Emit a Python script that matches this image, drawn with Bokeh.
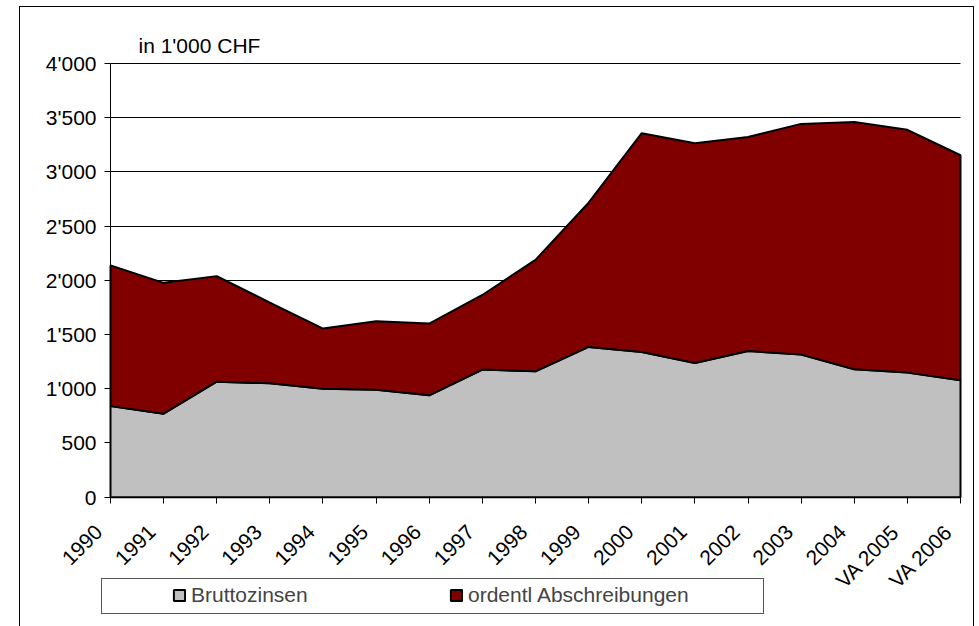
from bokeh.plotting import figure
from bokeh.models import Range1d, FixedTicker, Legend, LegendItem, LinearAxis, Grid, Label
from bokeh.embed import file_html
from bokeh.resources import INLINE
import math

years = ["1990", "1991", "1992", "1993", "1994", "1995", "1996", "1997", "1998",
         "1999", "2000", "2001", "2002", "2003", "2004", "VA 2005", "VA 2006"]
bruttozinsen = [840, 770, 1065, 1050, 1000, 992, 940, 1177, 1161,
                1386, 1340, 1238, 1349, 1315, 1180, 1149, 1078]
abschreibungen = [1298, 1207, 974, 745, 555, 631, 661, 688, 1028,
                  1330, 2017, 2027, 1974, 2128, 2281, 2239, 2076]
y_ticks = [0, 500, 1000, 1500, 2000, 2500, 3000, 3500, 4000]

FONT = "Liberation Sans"
n = len(years)
xs = list(range(n))
total = [b + a for b, a in zip(bruttozinsen, abschreibungen)]

# The frame covers the whole chart box; the axes are fixed at 0 so that the
# plot area sits inside it and the legend below the category axis fits in it.
X_START, X_END = -1.6941, 16.2447
Y_START, Y_END = -1192.5, 4516.5
TICK_LEN = 55.3          # 6 px in data units
LABEL_SHIFT = 0.226      # category labels sit slightly left of their ticks

p = figure(frame_width=953, frame_height=619, min_border=0,
           x_range=Range1d(X_START, X_END), y_range=Range1d(Y_START, Y_END),
           x_axis_location=None, title=None,
           output_backend="svg", toolbar_location=None, tools="")
p.margin = (6, 0, 0, 19)
g = "linear-gradient(#555555,#555555)"
p.styles = {
    "border-left": "1px solid black", "border-top": "1px solid black",
    "border-right": "1px solid black",
    "background-color": "white",
    "background-image": ", ".join([g] * 4),
    "background-size": "663px 1px, 663px 1px, 1px 36px, 1px 36px",
    "background-position": "81px 571px, 81px 606px, 81px 571px, 743px 571px",
    "background-repeat": "no-repeat",
}
p.outline_line_color = None
p.background_fill_alpha = 0
p.border_fill_alpha = 0
p.xgrid.visible = False

gx = xs + [n - 1, 0]
gy = bruttozinsen + [0, 0]
dx = xs + xs[::-1]
dy = total + bruttozinsen[::-1]
r_grey = p.patch(gx, gy, fill_color="#C0C0C0", line_color="black", line_width=2)
r_red = p.patch(dx, dy, fill_color="#800000", line_color="black", line_width=2)

# y axis
yax = p.yaxis[0]
yax.fixed_location = 0
yax.bounds = (0, 4000)
yax.ticker = FixedTicker(ticks=y_ticks)
yax.major_label_overrides = {v: f"{v:,}".replace(",", "'") for v in y_ticks}
yax.major_label_standoff = 8
yax.major_tick_out = 6
yax.major_tick_in = 0
yax.major_tick_line_color = "black"
yax.minor_tick_line_color = None

# category axis (labels), on a range shifted by LABEL_SHIFT
p.extra_x_ranges = {"lab": Range1d(X_START + LABEL_SHIFT, X_END + LABEL_SHIFT)}
xax = LinearAxis(x_range_name="lab", fixed_location=0,
                 bounds=(LABEL_SHIFT, n - 1 + LABEL_SHIFT),
                 ticker=FixedTicker(ticks=xs),
                 major_label_overrides={i: y for i, y in enumerate(years)},
                 major_label_orientation=math.pi / 4)
xax.major_tick_line_color = None
xax.minor_tick_line_color = None
xax.major_tick_out = 0
xax.major_tick_in = 0
xax.major_label_standoff = 31
p.add_layout(xax, "below")

for ax in (xax, yax):
    ax.axis_line_color = "black"
    ax.axis_line_width = 1
    ax.major_label_text_font = FONT
    ax.major_label_text_font_size = "21px"
    ax.major_label_text_color = "black"

p.ygrid.grid_line_color = "black"
p.ygrid.grid_line_width = 1
p.ygrid.ticker = FixedTicker(ticks=y_ticks)
try:
    p.ygrid[0].cross_bounds = (0, n - 1)
    tick_grid = Grid(dimension=0, ticker=FixedTicker(ticks=xs),
                     cross_bounds=(-TICK_LEN, 0), grid_line_color="black", grid_line_width=1)
    p.add_layout(tick_grid)
except AttributeError:
    p.ygrid.grid_line_color = None
    p.segment(x0=[0] * len(y_ticks), x1=[n - 1] * len(y_ticks), y0=y_ticks, y1=y_ticks,
              line_color="black", line_width=1, level="underlay")
    p.segment(x0=xs, x1=xs, y0=[0] * n, y1=[-TICK_LEN] * n, line_color="black", line_width=1)

p.add_layout(Label(x=0.527, y=4165, text="in 1'000  CHF", text_font=FONT,
                   text_font_size="21px", text_color="black", text_baseline="alphabetic"))

legend = Legend(items=[LegendItem(label="Bruttozinsen", renderers=[r_grey]),
                       LegendItem(label="ordentl Abschreibungen", renderers=[r_red])],
                orientation="horizontal", location=(152, 19),
                padding=0, margin=0, spacing=0, glyph_width=14, glyph_height=14,
                label_standoff=5, label_width=258,
                label_text_font=FONT, label_text_font_size="21px",
                border_line_alpha=0, background_fill_alpha=0)
p.add_layout(legend, "center")

open("out.html", "w").write(file_html(p, INLINE))
